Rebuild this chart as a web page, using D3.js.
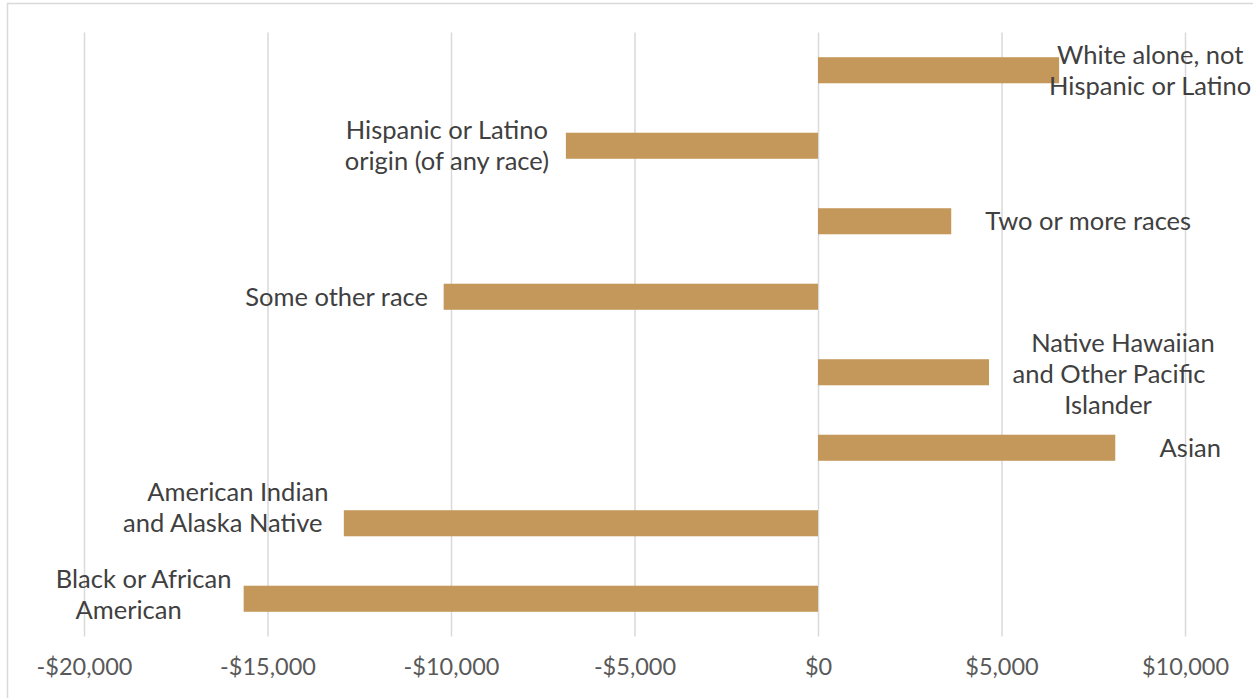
<!DOCTYPE html>
<html>
<head>
<meta charset="utf-8">
<script src="https://cdn.jsdelivr.net/npm/d3@7"></script>
<style>
  html, body { margin: 0; padding: 0; background: #fff; }
  svg { display: block; }
</style>
</head>
<body>
<svg id="chart" width="1253" height="698"></svg>
<script>
// Income gap relative to the overall median, by race / ethnicity
const categories = [
  "White alone, not Hispanic or Latino",
  "Hispanic or Latino origin (of any race)",
  "Two or more races",
  "Some other race",
  "Native Hawaiian and Other Pacific Islander",
  "Asian",
  "American Indian and Alaska Native",
  "Black or African American"
];
const gapValues = [6570, -6870, 3630, -10200, 4660, 8100, -12920, -15650];
const tickValues = [-20000, -15000, -10000, -5000, 0, 5000, 10000];

// wrapped label lines and their offsets from the bar end
const labelLines = [
  ["White alone, not", "Hispanic or Latino"],
  ["Hispanic or Latino", "origin (of any race)"],
  ["Two or more races"],
  ["Some other race"],
  ["Native Hawaiian", "and Other Pacific", "Islander"],
  ["Asian"],
  ["American Indian", "and Alaska Native"],
  ["Black or African", "American"]
];
const labelDx = [
  [91, 91],
  [-119, -119],
  [137],
  [-107],
  [134, 120, 119],
  [75],
  [-106, -121],
  [-100, -115]
];
const labelDy = [0, 0, 0, 0, 2, 0, -16, -4];

const svg = d3.select("#chart");
const font = "'Lato', 'Open Sans', sans-serif";

// outer chart frame
svg.append("rect")
  .attr("x", 7.5).attr("y", 3.5)
  .attr("width", 1260).attr("height", 710)
  .attr("fill", "none")
  .attr("stroke", "#d9d9d9")
  .attr("stroke-width", 1.5);

const plotTop = 32.5, plotBottom = 636.5;

const x = d3.scaleLinear().domain([-20000, 10000]).range([84, 1185]);
const y = d3.scaleBand()
  .domain(categories)
  .range([plotTop, plotBottom])
  .paddingInner(0.655)
  .paddingOuter(0.3275);

const fmt = v => (v < 0 ? "-$" : "$") + d3.format(",")(Math.abs(v));

// vertical gridlines + tick labels via a bottom axis
const axis = d3.axisBottom(x)
  .tickValues(tickValues)
  .tickFormat(fmt)
  .tickSize(-(plotBottom - plotTop))
  .tickPadding(0);

const axisG = svg.append("g")
  .attr("transform", `translate(0,${plotBottom})`)
  .call(axis);
axisG.select(".domain").remove();
axisG.selectAll(".tick line")
  .attr("stroke", "#d9d9d9")
  .attr("stroke-width", 1.5);
axisG.selectAll(".tick text")
  .attr("y", 38)
  .attr("dy", 0)
  .attr("fill", "#595959")
  .style("font-family", font)
  .style("font-size", "23.5px");

// bars
svg.append("g").selectAll("rect")
  .data(categories)
  .join("rect")
  .attr("x", (d, i) => Math.min(x(0), x(gapValues[i])))
  .attr("y", d => y(d))
  .attr("width", (d, i) => Math.abs(x(gapValues[i]) - x(0)))
  .attr("height", y.bandwidth())
  .attr("fill", "#c4975a");

// category labels next to each bar end
const lineH = 31;
const labels = svg.append("g")
  .style("font-family", font)
  .style("font-size", "25.5px")
  .attr("fill", "#404040")
  .attr("text-anchor", "middle");

categories.forEach((c, i) => {
  const lines = labelLines[i];
  const cy = y(c) + y.bandwidth() / 2 + labelDy[i];
  const first = cy - (lines.length - 1) * lineH / 2;
  const xEnd = x(gapValues[i]);
  lines.forEach((ln, j) => {
    labels.append("text")
      .attr("x", xEnd + labelDx[i][j])
      .attr("y", first + j * lineH)
      .attr("dy", "0.35em")
      .text(ln);
  });
});
</script>
</body>
</html>
